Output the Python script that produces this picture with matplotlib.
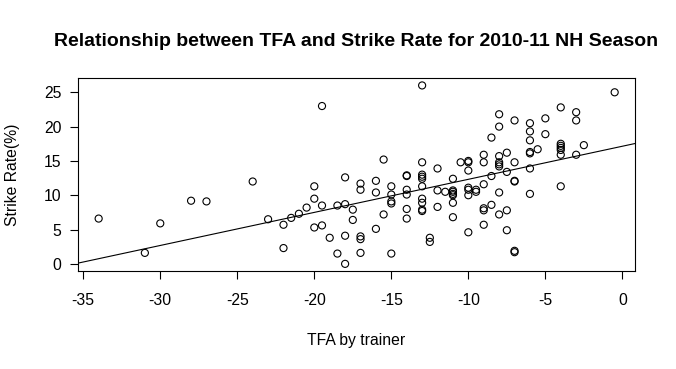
import matplotlib
matplotlib.use("Agg")
import matplotlib.pyplot as plt

plt.rcParams["font.family"] = ["Liberation Sans", "DejaVu Sans"]

# TFA by trainer vs strike rate
tfa = [
    -34, -31, -30, -28, -27, -24, -23, -22, -22, -21.5, -21, -20.5,
    -20, -20, -20, -19.5, -19.5, -19.5, -19, -18.5, -18.5,
    -18, -18, -18, -18, -17.5, -17.5, -17, -17, -17, -17, -17,
    -16, -16, -16, -15.5, -15.5, -15, -15, -15, -15, -15,
    -14, -14, -14, -14, -14, -14,
    -13, -13, -13, -13, -13, -13, -13, -13, -13, -13,
    -12.5, -12.5, -12, -12, -12, -11.5,
    -11, -11, -11, -11, -11, -11, -11, -10.5,
    -10, -10, -10, -10, -10, -10, -10, -9.5, -9.5,
    -9, -9, -9, -9, -9, -9, -8.5, -8.5, -8.5,
    -8, -8, -8, -8, -8, -8, -8, -8,
    -7.5, -7.5, -7.5, -7.5, -7, -7, -7, -7, -7, -7,
    -6, -6, -6, -6, -6, -6, -6, -5.5, -5, -5,
    -4, -4, -4, -4, -4, -4, -4, -3, -3, -3, -2.5, -0.5,
]
strike_rate = [
    6.6, 1.6, 5.9, 9.2, 9.1, 12.0, 6.5, 5.7, 2.3, 6.7, 7.3, 8.2,
    11.3, 9.5, 5.3, 23.0, 8.5, 5.6, 3.8, 8.5, 1.5,
    12.6, 8.7, 4.1, 0.0, 7.9, 6.4, 11.7, 10.8, 4.0, 3.6, 1.6,
    12.1, 10.4, 5.1, 15.2, 7.2, 11.3, 10.1, 9.1, 8.8, 1.5,
    12.8, 12.9, 10.8, 10.1, 8.0, 6.6,
    26.0, 14.8, 13.0, 12.7, 12.4, 11.3, 9.5, 8.9, 7.9, 7.7,
    3.8, 3.2, 13.9, 10.7, 8.3, 10.5,
    12.4, 10.7, 10.5, 10.2, 10.0, 8.9, 6.8, 14.8,
    15.0, 14.8, 13.6, 11.1, 10.8, 10.0, 4.6, 10.8, 10.5,
    15.9, 14.8, 11.6, 8.1, 7.8, 5.7, 18.4, 12.8, 8.6,
    21.8, 20.0, 15.7, 14.8, 14.5, 14.2, 10.4, 7.2,
    16.2, 13.4, 7.8, 4.9, 20.9, 14.8, 12.1, 12.0, 1.9, 1.7,
    20.5, 19.3, 18.0, 16.3, 16.1, 13.9, 10.2, 16.7, 21.2, 18.9,
    22.8, 17.5, 17.2, 16.9, 16.6, 15.9, 11.3, 22.1, 20.9, 15.9, 17.3, 25.0,
]

# fitted line
fit_intercept = 17.14
fit_slope = 0.482

x_ticks = [-35, -30, -25, -20, -15, -10, -5, 0]
y_ticks = [0, 5, 10, 15, 20, 25]

fig = plt.figure(figsize=(6.76, 3.69), dpi=100)
ax = fig.add_axes([0.1154, 0.2656, 0.8244, 0.5222])

ax.scatter(tfa, strike_rate, s=26, facecolors="none", edgecolors="black", linewidths=0.8)
ax.axline((0, fit_intercept), slope=fit_slope, color="black", linewidth=0.8)

ax.set_xlim(-35.34, 0.84)
ax.set_ylim(-1.04, 27.04)
ax.set_xticks(x_ticks)
ax.set_xticklabels([str(t) for t in x_ticks])
ax.set_yticks(y_ticks)
ax.tick_params(direction="out", length=6, width=0.8, labelsize=11.3, colors="black")
ax.tick_params(axis="x", pad=10)
ax.tick_params(axis="y", pad=6)
for sp in ax.spines.values():
    sp.set_linewidth(0.8)

fig.text(0.527, 1 - 42 / 369, "Relationship between TFA and Strike Rate for 2010-11 NH Season",
         ha="center", va="center", fontsize=14, fontweight="bold")
fig.text(0.527, 1 - 340 / 369, "TFA by trainer", ha="center", va="center", fontsize=11.3)
fig.text(13 / 676, 1 - 175 / 369, "Strike Rate(%)", ha="center", va="center",
         rotation=90, fontsize=11.3)

fig.savefig("out.png", dpi=100)
